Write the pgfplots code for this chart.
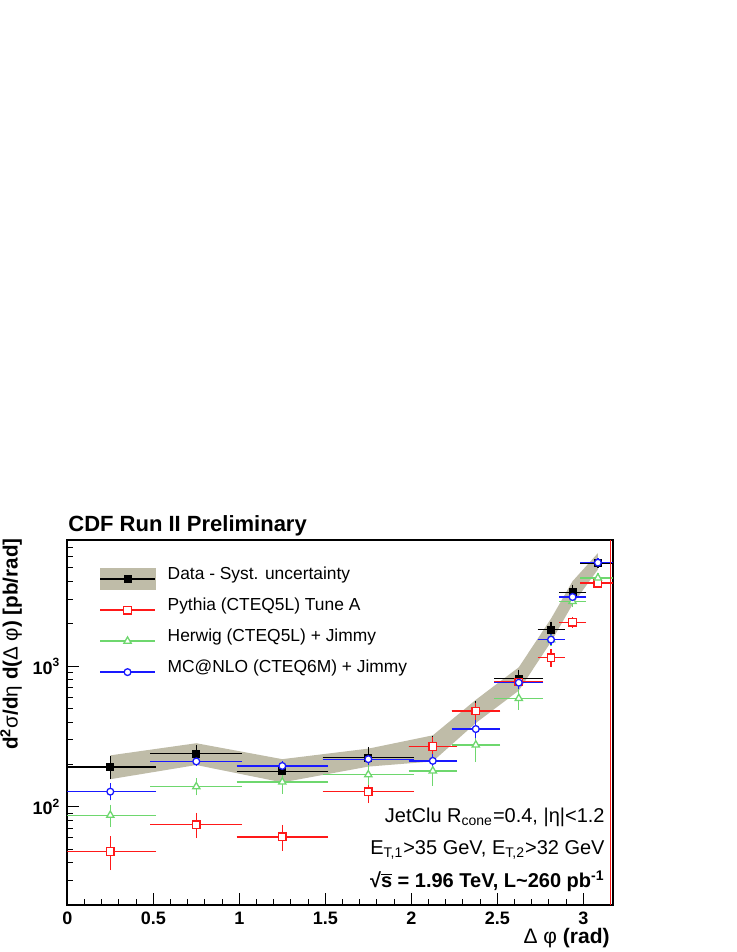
\documentclass[border=0pt]{standalone}
\usepackage{fontspec}
\setmainfont{Liberation Sans}
\usepackage{pgfplots}
\usepackage{pgfplotstable}
\pgfplotsset{compat=1.18}

\definecolor{syst}{RGB}{191,188,168}
\definecolor{pyred}{RGB}{255,25,25}
\definecolor{hwgreen}{RGB}{110,215,110}
\definecolor{nloblue}{RGB}{25,25,255}

% data: bin centre, half width, value, stat error
\pgfplotstableread{
x     ex     y     ey
0.25   0.25   192   28
0.75   0.25   239   24
1.25   0.25   179   14
1.75   0.25   224   31
2.125  0.125  268   38
2.375  0.125  480   57
2.625  0.125  818   80
2.8125 0.0625 1820  165
2.9375 0.0625 3350  285
3.085  0.085  5410  160
}\datatab

% systematic band (upper edge left to right, lower edge right to left)
\pgfplotstableread{
x     y
0.25   232
0.75   283
1.25   218
1.75   259
2.125  322
2.375  576
2.625  982
2.8125 2180
2.9375 4020
3.085  6370
3.085  4870
2.9375 2750
2.8125 1490
2.625  670
2.375  394
2.125  210
1.75   193
1.25   149
0.75   198
0.25   157
}\bandtab

\pgfplotstableread{
x     ex     y     ey
0.25   0.25   48    11
0.75   0.25   74.5  12
1.25   0.25   61    10
1.75   0.25   128   17
2.125  0.125  268   30
2.375  0.125  480   45
2.625  0.125  771   60
2.8125 0.0625 1148  110
2.9375 0.0625 2050  90
3.085  0.085  3900  100
}\pythiatab

\pgfplotstableread{
x     ex     y     ey
0.25   0.25   87    12
0.75   0.25   139   13
1.25   0.25   150   20
1.75   0.25   169   20
2.125  0.125  180   32
2.375  0.125  275   58
2.625  0.125  590   77
2.8125 0.0625 1545  100
2.9375 0.0625 2890  150
3.085  0.085  4240  150
}\herwigtab

\pgfplotstableread{
x     ex     y     ey
0.25   0.25   128   12
0.75   0.25   210   6
1.25   0.25   195   6
1.75   0.25   218   10
2.125  0.125  212   15
2.375  0.125  357   36
2.625  0.125  763   40
2.8125 0.0625 1545  60
2.9375 0.0625 3105  100
3.085  0.085  5450  150
}\nlotab

\pgfplotsset{
  errs/.style={
    error bars/.cd,
      x dir=both, x explicit, y dir=both, y explicit,
      error bar style={line width=0.65pt},
      error mark options={line width=0.65pt, mark size=1.4pt},
  },
}

\begin{document}
\begin{tikzpicture}[x=1pt,y=1pt]
\useasboundingbox (0,0) rectangle (368,476);
\begin{axis}[
  at={(33.65pt,23.5pt)}, anchor=south west,
  scale only axis, width=272.7pt, height=182.5pt,
  xmin=0, xmax=3.171,
  ymode=log, ymin=20, ymax=7900,
  axis line style={black, line width=0.9pt},
  tick align=inside, xtick pos=left, ytick pos=left,
  xtick={0,0.5,1,1.5,2,2.5,3},
  xticklabels={0,0.5,1,1.5,2,2.5,3},
  minor x tick num=4,
  yticklabel={\pgfmathtruncatemacro\e{round(\tick/ln(10))}10\textsuperscript{\e}},
  ticklabel style={font=\fontsize{9}{9}\selectfont\bfseries},
  major tick length=6pt, minor tick length=3pt,
  tick style={black, line width=0.5pt},
  legend style={at={(axis description cs:0.0581,0.924)}, anchor=north west,
    draw=none, fill=none, inner sep=0pt, row sep=4.5pt, column sep=6pt,
    font=\fontsize{8.7}{8.7}\selectfont,
    nodes={inner sep=0pt, text height=5.5pt, text depth=5.5pt}},
  legend cell align=left,
]
\addlegendimage{legend image code/.code={
  \fill[syst] (0pt,-5.25pt) rectangle (27.5pt,5.25pt);
  \draw[black, line width=0.65pt] (0pt,0pt) -- (27.5pt,0pt);
  \draw[black] plot[mark=square*, mark size=1.75pt] coordinates {(13.75pt,0pt)};}}
\addlegendentry{Data - Syst. uncertainty}
\addlegendimage{legend image code/.code={
  \draw[pyred, line width=0.65pt] (0pt,0pt) -- (27.5pt,0pt);
  \draw[pyred, line width=0.65pt] plot[mark=square*, mark size=1.9pt, mark options={fill=white}] coordinates {(13.75pt,0pt)};}}
\addlegendentry{Pythia (CTEQ5L) Tune A}
\addlegendimage{legend image code/.code={
  \draw[hwgreen, line width=0.65pt] (0pt,0pt) -- (27.5pt,0pt);
  \draw[hwgreen, line width=0.65pt] plot[mark=triangle*, mark size=2.1pt, mark options={fill=white}] coordinates {(13.75pt,0pt)};}}
\addlegendentry{Herwig (CTEQ5L) + Jimmy}
\addlegendimage{legend image code/.code={
  \draw[nloblue, line width=0.65pt] (0pt,0pt) -- (27.5pt,0pt);
  \draw[nloblue, line width=0.65pt] plot[mark=*, mark size=1.7pt, mark options={fill=white}] coordinates {(13.75pt,0pt)};}}
\addlegendentry{MC@NLO (CTEQ6M) + Jimmy}

% systematic band
\addplot[fill=syst, draw=none, forget plot] table[x=x, y=y] {\bandtab} -- cycle;

% data
\addplot[black, only marks, mark=square*, mark size=1.75pt, forget plot, errs]
  table[x=x, y=y, x error=ex, y error=ey] {\datatab};
% Pythia
\addplot[pyred, only marks, mark=square*, mark size=1.9pt, line width=0.65pt,
  mark options={fill=white}, forget plot, errs]
  table[x=x, y=y, x error=ex, y error=ey] {\pythiatab};
% Herwig
\addplot[hwgreen, only marks, mark=triangle*, mark size=2.1pt, line width=0.65pt,
  mark options={fill=white}, forget plot, errs]
  table[x=x, y=y, x error=ex, y error=ey] {\herwigtab};
% MC@NLO
\addplot[nloblue, only marks, mark=*, mark size=1.7pt, line width=0.65pt,
  mark options={fill=white}, forget plot, errs]
  table[x=x, y=y, x error=ex, y error=ey] {\nlotab};

\draw[pyred, line width=0.6pt] ([xshift=-1pt]rel axis cs:1,0) -- ([xshift=-1pt]rel axis cs:1,1);
\end{axis}

\node[anchor=base west, inner sep=0pt, font=\fontsize{11}{11}\selectfont\bfseries]
  at (34,210.2) {CDF Run II Preliminary};
\node[rotate=90, anchor=base east, inner sep=0pt, font=\fontsize{10.3}{10.3}\selectfont\bfseries]
  at (8.8,207) {d\textsuperscript{2}{\mdseries σ}/d{\mdseries η} d({\mdseries Δ φ}) [pb/rad]};
\node[anchor=base east, inner sep=0pt, font=\fontsize{10.5}{10.5}\selectfont\bfseries]
  at (305,4.5) {{\mdseries Δ φ} (rad)};
\node[anchor=base east, inner sep=0pt, font=\fontsize{10}{10}\selectfont]
  at (302.5,64.5) {JetClu R\textsubscript{cone}=0.4, |η|<1.2};
\node[anchor=base east, inner sep=0pt, font=\fontsize{10}{10}\selectfont]
  at (302.5,48.5) {E\textsubscript{T,1}>35 GeV, E\textsubscript{T,2}>32 GeV};
\node[anchor=base east, inner sep=0pt, font=\fontsize{10}{10}\selectfont\bfseries]
  at (302.5,32) {√$\overline{\mbox{\bfseries s}}$ = 1.96 TeV, L\textasciitilde 260 pb\textsuperscript{-1}};
\end{tikzpicture}
\end{document}
